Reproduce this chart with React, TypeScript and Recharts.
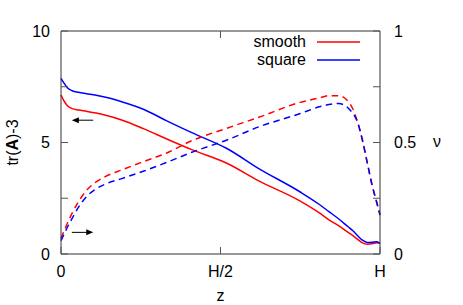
import React from 'react';
import { LineChart, Line, XAxis, YAxis, ReferenceLine } from 'recharts';

// position along the channel, 0 .. H (H = 1)
const zPos = [0, 0.01, 0.02, 0.035, 0.055, 0.08, 0.11, 0.14, 0.19, 0.26, 0.33, 0.41, 0.52, 0.62, 0.75, 0.81, 0.84, 0.87, 0.9, 0.915, 0.93, 0.945, 0.96, 0.975, 0.99, 1.0];

// tr(A)-3, left axis
const smoothTr = [7.13, 6.85, 6.65, 6.52, 6.46, 6.4, 6.32, 6.22, 6.01, 5.61, 5.17, 4.68, 4.07, 3.28, 2.37, 1.84, 1.53, 1.27, 0.97, 0.82, 0.66, 0.5, 0.44, 0.46, 0.5, 0.48];
const squareTr = [7.88, 7.65, 7.45, 7.32, 7.25, 7.19, 7.12, 7.03, 6.83, 6.48, 5.98, 5.44, 4.73, 3.83, 2.78, 2.22, 1.9, 1.58, 1.22, 1.04, 0.82, 0.62, 0.52, 0.53, 0.55, 0.48];

// nu, right axis
const smoothNu = [0.07, 0.105, 0.138, 0.183, 0.235, 0.285, 0.323, 0.348, 0.377, 0.415, 0.452, 0.508, 0.564, 0.613, 0.68, 0.7, 0.71, 0.71, 0.685, 0.65, 0.59, 0.51, 0.41, 0.31, 0.23, 0.175];
const squareNu = [0.06, 0.09, 0.12, 0.16, 0.21, 0.257, 0.292, 0.314, 0.338, 0.372, 0.41, 0.456, 0.511, 0.57, 0.63, 0.66, 0.67, 0.675, 0.655, 0.63, 0.59, 0.51, 0.41, 0.31, 0.23, 0.175];

const seriesNames = ['smooth', 'square'];

const xTicks = [0, 0.5, 1];
const xTickLabels: Record<number, string> = { 0: '0', 0.5: 'H/2', 1: 'H' };
const leftTicks = [0, 2.5, 5, 7.5, 10];
const leftLabelled = [0, 5, 10];
const rightTicks = [0, 0.25, 0.5, 0.75, 1];
const rightLabelled = [0, 0.5, 1];

// arrows telling which axis each family of curves belongs to
const trArrow = { from: [0.101, 6.0], to: [0.034, 6.0] };
const nuArrow = { from: [0.034, 0.097], to: [0.101, 0.097] };

const data = zPos.map((z, i) => ({
  z,
  smoothTr: smoothTr[i],
  squareTr: squareTr[i],
  smoothNu: smoothNu[i],
  squareNu: squareNu[i],
}));

const FONT = '"Liberation Sans", Arial, sans-serif';
const FRAME = '#333';
const TICK = '#555';
const RED = '#ff0000';
const BLUE = '#0000ff';
const TL = 7;

const LeftTick = (props: any) => {
  const { x, y, payload } = props;
  const v = payload.value;
  return (
    <g>
      <line x1={x} x2={x + TL} y1={y} y2={y} stroke={TICK} />
      {leftLabelled.includes(v) && (
        <text x={x - 11} y={y} dy="0.36em" textAnchor="end" fontSize={16} fontFamily={FONT} fill="#000">
          {v}
        </text>
      )}
    </g>
  );
};

const RightTick = (props: any) => {
  const { x, y, payload } = props;
  const v = payload.value;
  return (
    <g>
      <line x1={x - TL} x2={x} y1={y} y2={y} stroke={TICK} />
      {rightLabelled.includes(v) && (
        <text x={x + 14} y={y} dy="0.36em" textAnchor="start" fontSize={16} fontFamily={FONT} fill="#000">
          {v}
        </text>
      )}
    </g>
  );
};

const BottomTick = (props: any) => {
  const { x, y, payload } = props;
  return (
    <g>
      <line x1={x} x2={x} y1={y - TL} y2={y} stroke={TICK} />
      <text x={x} y={y + 23} textAnchor="middle" fontSize={16} fontFamily={FONT} fill="#000">
        {xTickLabels[payload.value]}
      </text>
    </g>
  );
};

const TopTick = (props: any) => {
  const { x, y, payload } = props;
  if (payload.value === 0 || payload.value === 1) return <g />;
  return <line x1={x} x2={x} y1={y} y2={y + TL} stroke={TICK} />;
};

const Arrow = (props: any) => {
  const { x1, y1, x2, y2 } = props;
  const dir = x2 > x1 ? 1 : -1;
  return (
    <g>
      <line x1={x1} y1={y1} x2={x2 - dir * 5} y2={y2} stroke="#000" strokeWidth={1} />
      <polygon points={`${x2},${y2} ${x2 - dir * 7},${y2 - 3} ${x2 - dir * 7},${y2 + 3}`} fill="#000" />
    </g>
  );
};

const LegendBox = () => (
  <div style={{ position: 'absolute', top: 33, left: 240, width: 125, fontFamily: FONT, fontSize: 16, color: '#000' }}>
    {seriesNames.map((name, i) => (
      <div key={name} style={{ display: 'flex', alignItems: 'center', height: 18 }}>
        <span style={{ flex: 1, textAlign: 'right', lineHeight: '18px' }}>{name}</span>
        <svg width={43} height={4} style={{ marginLeft: 11, marginRight: 5 }}>
          <line x1={0} x2={43} y1={2} y2={2} stroke={i === 0 ? RED : BLUE} strokeWidth={1.5} />
        </svg>
      </div>
    ))}
  </div>
);

export default function App() {
  return (
    <div style={{ position: 'absolute', left: 0, top: 0, width: 463, height: 305, background: '#fff' }}>
      <LineChart width={463} height={305} data={data} margin={{ top: 1, right: 0, bottom: 0, left: 0 }}>
        <XAxis
          dataKey="z"
          type="number"
          domain={[0, 1]}
          ticks={xTicks}
          interval={0}
          height={51}
          tickSize={0}
          tickMargin={0}
          tickLine={false}
          axisLine={{ stroke: FRAME }}
          tick={<BottomTick />}
          label={{
            content: (p: any) => {
              const vb = p.viewBox;
              return (
                <text x={vb.x + vb.width / 2} y={vb.y + 47} textAnchor="middle" fontSize={16} fontFamily={FONT} fill="#000">
                  z
                </text>
              );
            },
          }}
        />
        <XAxis
          xAxisId="top"
          dataKey="z"
          type="number"
          orientation="top"
          domain={[0, 1]}
          ticks={xTicks}
          interval={0}
          height={30}
          tickSize={0}
          tickMargin={0}
          tickLine={false}
          axisLine={{ stroke: FRAME }}
          tick={<TopTick />}
        />
        <YAxis
          yAxisId="left"
          type="number"
          domain={[0, 10]}
          ticks={leftTicks}
          interval={0}
          width={61}
          tickSize={0}
          tickMargin={0}
          tickLine={false}
          axisLine={{ stroke: FRAME }}
          tick={<LeftTick />}
          label={{
            content: (p: any) => {
              const vb = p.viewBox;
              const cx = vb.x + 18;
              const cy = vb.y + vb.height / 2;
              return (
                <text x={cx} y={cy} transform={`rotate(-90 ${cx} ${cy})`} textAnchor="middle" fontSize={16} fontFamily={FONT} fill="#000">
                  tr(<tspan fontWeight="bold">A</tspan>)-3
                </text>
              );
            },
          }}
        />
        <YAxis
          yAxisId="right"
          orientation="right"
          type="number"
          domain={[0, 1]}
          ticks={rightTicks}
          interval={0}
          width={83}
          tickSize={0}
          tickMargin={0}
          tickLine={false}
          axisLine={{ stroke: FRAME }}
          tick={<RightTick />}
          label={{
            content: (p: any) => {
              const vb = p.viewBox;
              return (
                <text x={vb.x + 57} y={vb.y + vb.height / 2 + 4} textAnchor="middle" fontSize={16} fontFamily={FONT} fill="#000">
                  ν
                </text>
              );
            },
          }}
        />
        <Line yAxisId="left" dataKey="smoothTr" name="smooth" type="monotone" stroke={RED} strokeWidth={1.5} dot={false} isAnimationActive={false} />
        <Line yAxisId="left" dataKey="squareTr" name="square" type="monotone" stroke={BLUE} strokeWidth={1.5} dot={false} isAnimationActive={false} />
        <Line yAxisId="right" dataKey="smoothNu" type="monotone" stroke={RED} strokeWidth={1.5} strokeDasharray="6.5 4.5" dot={false} isAnimationActive={false} />
        <Line yAxisId="right" dataKey="squareNu" type="monotone" stroke={BLUE} strokeWidth={1.5} strokeDasharray="6.5 4.5" dot={false} isAnimationActive={false} />
        <ReferenceLine
          yAxisId="left"
          segment={[{ x: trArrow.from[0], y: trArrow.from[1] }, { x: trArrow.to[0], y: trArrow.to[1] }]}
          shape={(p: any) => <Arrow {...p} />}
        />
        <ReferenceLine
          yAxisId="right"
          segment={[{ x: nuArrow.from[0], y: nuArrow.from[1] }, { x: nuArrow.to[0], y: nuArrow.to[1] }]}
          shape={(p: any) => <Arrow {...p} />}
        />
      </LineChart>
      <LegendBox />
    </div>
  );
}
